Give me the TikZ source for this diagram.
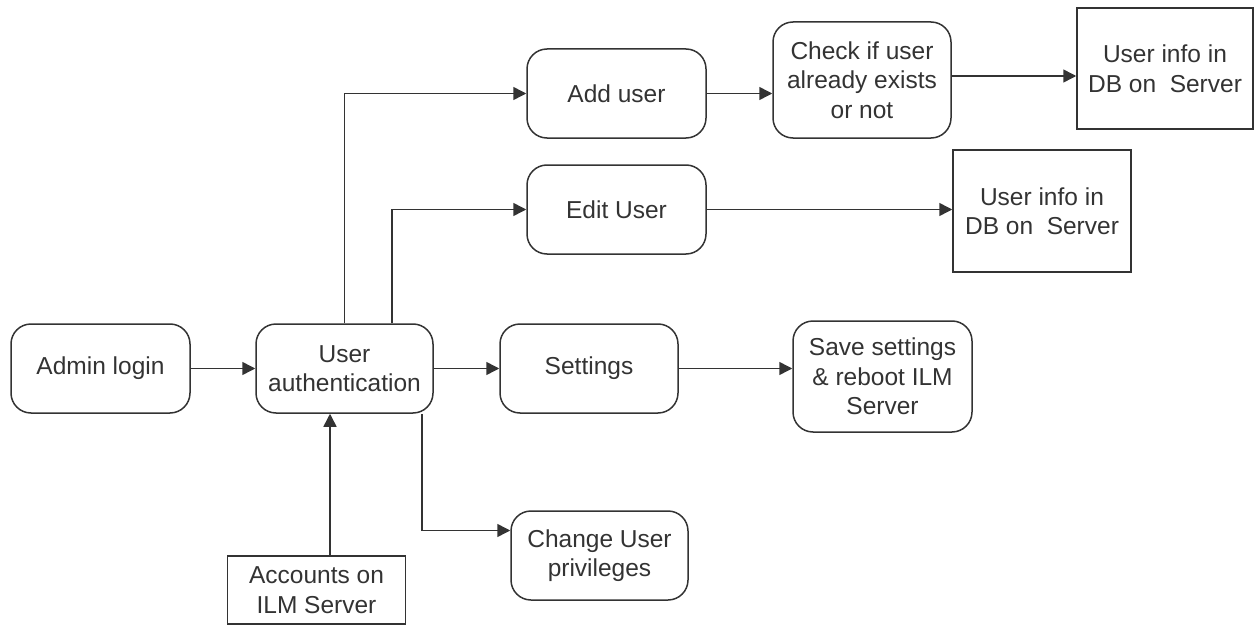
\documentclass[tikz,border=0pt]{standalone}
\usepackage{fontspec}
\setmainfont{Liberation Sans}
\usetikzlibrary{arrows.meta,calc}
\tikzset{
  base/.style={draw=black!80, line width=1.5pt, text=black!80, align=center, inner sep=0pt,
    font=\fontsize{24.5}{29.5}\selectfont},
  rbox/.style={base, rounded corners=20pt},
  sbox/.style={base},
  arr/.style={draw=black!80, line width=1.5pt, -{Triangle[length=13pt,width=13pt]}},
}
\begin{document}
\begin{tikzpicture}[x=1pt,y=-1pt]
\useasboundingbox (0,0) rectangle (1254,626);
\node[rbox, minimum width=179pt, minimum height=89pt] (admin) at (100.5,368.5) {Admin login};
\node[rbox, minimum width=177pt, minimum height=89pt] (auth) at (344.5,368.5) {User\\authentication};
\node[rbox, minimum width=178pt, minimum height=89pt] (settings) at (589,368.5) {Settings};
\node[rbox, minimum width=179pt, minimum height=111pt] (save) at (882.5,376.5) {Save settings\\\& reboot ILM\\Server};
\node[rbox, minimum width=179pt, minimum height=89pt] (add) at (616.5,93.5) {Add user};
\node[rbox, minimum width=178pt, minimum height=116pt] (check) at (862,80) {Check if user\\already exists\\or not};
\node[sbox, minimum width=176pt, minimum height=121pt] (info1) at (1165,68.5) {User info in\\DB on\ \ Server};
\node[rbox, minimum width=179pt, minimum height=89pt] (edit) at (616.5,209.5) {Edit User};
\node[sbox, minimum width=178pt, minimum height=122pt] (info2) at (1042,211) {User info in\\DB on\ \ Server};
\node[rbox, minimum width=177pt, minimum height=89pt] (change) at (599.5,555.5) {Change User\\privileges};
\node[sbox, minimum width=178pt, minimum height=68pt] (accounts) at (316.5,590) {Accounts on\\ILM Server};

\draw[arr] (admin.east) -- (auth.west);
\draw[arr] (auth.east) -- (settings.west);
\draw[arr] (settings.east) -- (settings.east -| save.west);
\draw[arr] ([xshift=-14.5pt]auth.south |- accounts.north) -- ([xshift=-14.5pt]auth.south);
\draw[arr] (auth.north) |- (add.west);
\draw[arr] ([xshift=47.5pt]auth.north) |- (edit.west);
\draw[arr] ([xshift=77.5pt]auth.south) |- ([yshift=25pt]change.west);
\draw[arr] (add.east) -- (add.east -| check.west);
\draw[arr] ([yshift=4pt]check.east) -- ([yshift=4pt]check.east -| info1.west);
\draw[arr] (edit.east) -- (edit.east -| info2.west);
\end{tikzpicture}
\end{document}
